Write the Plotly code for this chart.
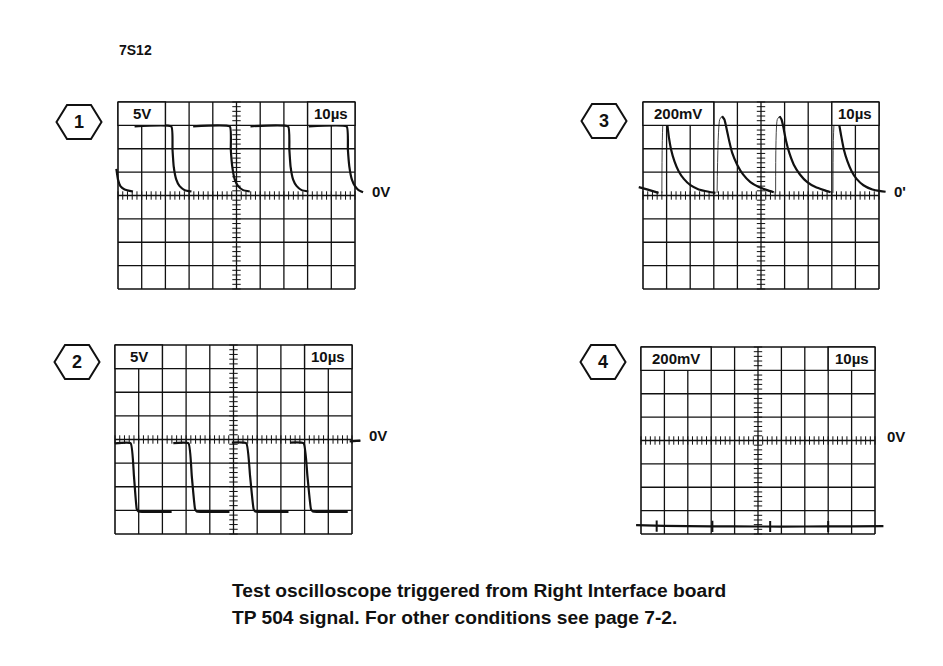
import plotly.graph_objects as go

# page body has an 8px margin, so the figure is drawn from (8, 8)
OFF = 8
W, H = 943 - OFF, 666 - OFF

# ---------------- data (graticule divisions: x 0..10, y -4..4, 0 at centre) -------------
title_text = "7S12"
caption_lines = ["Test oscilloscope triggered from Right Interface board",
                 "TP 504 signal. For other conditions see page 7-2."]

panel_ids = ["1", "2", "3", "4"]
volts_labels = ["5V", "5V", "200mV", "200mV"]
time_labels = ["10\u00b5s", "10\u00b5s", "10\u00b5s", "10\u00b5s"]
zero_labels = ["0V", "0V", "0'", "0V"]

# Panel 1 : 5V/div, 10us/div
p1_x = [-0.07, 0.0, 0.10, 0.28, 0.63, None,
        0.70, 2.25, 2.30, 2.35, 2.46, 2.60, 2.82, 3.10, None,
        3.17, 4.72, 4.76, 4.82, 4.93, 5.07, 5.28, 5.56, None,
        5.59, 7.18, 7.23, 7.28, 7.39, 7.54, 7.75, 8.03, None,
        8.05, 9.65, 9.70, 9.76, 9.87, 10.00, 10.15, 10.34]
p1_y = [1.14, 0.68, 0.40, 0.26, 0.17, None,
        2.96, 2.95, 1.96, 1.25, 0.68, 0.40, 0.23, 0.17, None,
        2.96, 2.95, 1.96, 1.25, 0.68, 0.40, 0.23, 0.17, None,
        2.96, 2.95, 1.96, 1.25, 0.68, 0.40, 0.23, 0.17, None,
        2.96, 2.95, 1.96, 1.25, 0.68, 0.40, 0.23, 0.14]

# Panel 2 : 5V/div, 10us/div
p2_x = [0.00, 0.66, 0.80, 0.92, 0.99, 2.39, None,
        2.46, 3.10, 3.24, 3.38, 3.45, 4.83, None,
        4.93, 5.54, 5.70, 5.85, 5.92, 7.32, None,
        7.39, 7.96, 8.12, 8.27, 8.35, 9.82, None,
        9.90, 10.35]
p2_y = [-0.16, -0.16, -1.55, -2.95, -3.05, -3.06, None,
        -0.15, -0.16, -1.55, -2.95, -3.05, -3.06, None,
        -0.13, -0.16, -1.55, -2.95, -3.05, -3.06, None,
        -0.13, -0.16, -1.55, -2.95, -3.05, -3.06, None,
        -0.08, -0.05]

# Panel 3 : 200mV/div, 10us/div  (decays, drawn bold)
p3_x = [-0.18, 0.17, 0.66, None,
        0.93, 1.02, 1.09, 1.19, 1.33, 1.51, 1.73, 2.01, 2.36, 2.79, 3.07, None,
        3.35, 3.45, 3.52, 3.64, 3.78, 3.99, 4.24, 4.55, 4.91, 5.26, 5.54, None,
        5.79, 5.87, 5.94, 6.05, 6.20, 6.39, 6.65, 6.96, 7.31, 7.67, 7.95, None,
        8.22, 8.30, 8.40, 8.51, 8.66, 8.84, 9.05, 9.34, 9.72, 10.07, 10.28]
p3_y = [0.36, 0.26, 0.11, None,
        3.39, 3.10, 2.54, 1.97, 1.47, 1.04, 0.71, 0.44, 0.26, 0.16, 0.11, None,
        3.39, 3.25, 2.96, 2.39, 1.82, 1.32, 0.90, 0.57, 0.36, 0.23, 0.14, None,
        3.39, 3.25, 2.96, 2.39, 1.82, 1.32, 0.90, 0.57, 0.36, 0.23, 0.14, None,
        3.39, 3.10, 2.54, 1.97, 1.47, 1.04, 0.71, 0.44, 0.26, 0.19, 0.16]
# Panel 3 leading edges (faint, thin)
p3_rise_x = [0.80, 0.86, 0.93, None, 3.14, 3.25, 3.35, None, 5.62, 5.69, 5.79, None, 8.05, 8.12, 8.22]
p3_rise_y = [0.11, 3.25, 3.39, None, 0.11, 3.25, 3.39, None, 0.11, 3.25, 3.39, None, 0.11, 3.25, 3.39]

# Panel 4 : 200mV/div, 10us/div
p4_x = [-0.21, 1.0, 3.0, 5.0, 7.0, 9.0, 10.36]
p4_y = [-3.62, -3.65, -3.67, -3.68, -3.68, -3.67, -3.66]
p4_mark_x = [0.67, 3.05, 5.52, 8.00]
p4_mark_y = [-3.66, -3.67, -3.68, -3.68]

traces_x = [p1_x, p2_x, p3_x, p4_x]
traces_y = [p1_y, p2_y, p3_y, p4_y]

# ---------------- layout geometry (page pixels) ----------------
geo = [dict(L=118, R=355, T=102, B=289, hx=79, hy=122, zx=10.63),   # panel 1
       dict(L=115, R=352, T=345, B=534, hx=77, hy=362, zx=10.63),   # panel 2
       dict(L=643, R=879, T=102, B=289, hx=604, hy=121, zx=10.55),  # panel 3
       dict(L=641, R=875, T=347, B=534, hx=603, hy=362, zx=10.43)]  # panel 4
box_cols = [[(0, 2), (8, 10)], [(0, 2), (8, 10)], [(0, 3), (8, 10)], [(0, 3), (8, 10)]]
XR = [-0.5, 11.6]
YR = [-4.3, 4.3]

INK = "#111111"
FONT = "Liberation Sans"

fig = go.Figure()
shapes = []
annotations = []

def px(x):
    return (x - OFF) / W

def py(y):
    return 1 - (y - OFF) / H

for i in range(4):
    g = geo[i]
    n = "" if i == 0 else str(i + 1)
    xa, ya = "x" + n, "y" + n
    dx = (g["R"] - g["L"]) / 10.0
    dy = (g["B"] - g["T"]) / 8.0
    cy = (g["T"] + g["B"]) / 2.0
    xdom = [px(g["L"] + XR[0] * dx), px(g["L"] + XR[1] * dx)]
    ydom = [py(cy - YR[0] * dy), py(cy - YR[1] * dy)]
    fig.layout["xaxis" + n] = dict(domain=xdom, range=XR, visible=False, anchor=ya, fixedrange=True)
    fig.layout["yaxis" + n] = dict(domain=ydom, range=YR, visible=False, anchor=xa, fixedrange=True)

    # centre graticule minor ticks
    hx = [k * 0.2 for k in range(51)]
    fig.add_trace(go.Scatter(x=hx, y=[0] * len(hx), xaxis=xa, yaxis=ya, mode="markers",
                             marker=dict(symbol="line-ns", size=6, line=dict(width=1, color=INK)),
                             hoverinfo="skip", showlegend=False))
    vy = [-4 + k * 0.2 for k in range(41)]
    fig.add_trace(go.Scatter(x=[5] * len(vy), y=vy, xaxis=xa, yaxis=ya, mode="markers",
                             marker=dict(symbol="line-ew", size=6, line=dict(width=1, color=INK)),
                             hoverinfo="skip", showlegend=False))

    # waveform
    if i == 2:
        fig.add_trace(go.Scatter(x=p3_rise_x, y=p3_rise_y, xaxis=xa, yaxis=ya, mode="lines",
                                 line=dict(color="#444444", width=1.0, shape="spline", smoothing=0.6),
                                 hoverinfo="skip", showlegend=False))
    fig.add_trace(go.Scatter(x=traces_x[i], y=traces_y[i], xaxis=xa, yaxis=ya, mode="lines",
                             line=dict(color=INK, width=2.2, shape="spline", smoothing=0.4),
                             connectgaps=False, hoverinfo="skip", showlegend=False))
    if i == 3:
        fig.add_trace(go.Scatter(x=p4_mark_x, y=p4_mark_y, xaxis=xa, yaxis=ya, mode="markers",
                                 marker=dict(symbol="line-ns", size=8, line=dict(width=2, color=INK)),
                                 hoverinfo="skip", showlegend=False))

    # graticule
    for k in range(11):
        shapes.append(dict(type="line", xref=xa, yref=ya, x0=k, x1=k, y0=-4, y1=4, layer="above",
                           line=dict(color=INK, width=1.6 if k in (0, 10) else 1.3)))
    for k in range(9):
        shapes.append(dict(type="line", xref=xa, yref=ya, x0=0, x1=10, y0=k - 4, y1=k - 4, layer="above",
                           line=dict(color=INK, width=1.6 if k in (0, 8) else 1.3)))
    # label boxes
    for (c0, c1), txt in zip(box_cols[i], [volts_labels[i], time_labels[i]]):
        shapes.append(dict(type="rect", xref=xa, yref=ya, x0=c0, x1=c1, y0=3, y1=4, layer="above",
                           fillcolor="white", line=dict(color=INK, width=1.4)))
        annotations.append(dict(x=(c0 + c1) / 2.0, y=3.5, xref=xa, yref=ya, text=txt, showarrow=False,
                                font=dict(family=FONT, size=15, color=INK, weight="bold"),
                                xanchor="center", yanchor="middle"))
    # 0V label
    if i == 1:
        shapes.append(dict(type="line", xref=xa, yref=ya, x0=10, x1=10.35, y0=-0.05, y1=-0.05,
                           layer="above", line=dict(color=INK, width=2)))
    annotations.append(dict(x=g["zx"], y=0.18, xref=xa, yref=ya, text=zero_labels[i],
                            showarrow=False, xanchor="left", yanchor="middle",
                            font=dict(family=FONT, size=15, color=INK, weight="bold")))

    # hexagon id badge
    cx, cyh = g["hx"], g["hy"]
    a, b, f = 22.5, 17.0, 12.0
    pts = [(cx - a, cyh), (cx - f, cyh - b), (cx + f, cyh - b), (cx + a, cyh), (cx + f, cyh + b), (cx - f, cyh + b)]
    path = "M " + " L ".join("%.5f,%.5f" % (px(p[0]), py(p[1])) for p in pts) + " Z"
    shapes.append(dict(type="path", xref="paper", yref="paper", path=path,
                       line=dict(color=INK, width=2), fillcolor="white"))
    annotations.append(dict(x=px(cx), y=py(cyh), xref="paper", yref="paper", text=panel_ids[i],
                            showarrow=False, xanchor="center", yanchor="middle",
                            font=dict(family=FONT, size=18, color=INK, weight="bold")))

annotations.append(dict(x=px(117), y=py(50), xref="paper", yref="paper", text=title_text,
                        showarrow=False, xanchor="left", yanchor="middle",
                        font=dict(family=FONT, size=14, color=INK, weight="bold")))
for j, line in enumerate(caption_lines):
    annotations.append(dict(x=px(230), y=py(590 + 27 * j), xref="paper", yref="paper", text=line,
                            showarrow=False, xanchor="left", yanchor="middle",
                            font=dict(family=FONT, size=19.2, color=INK, weight="bold")))

fig.update_layout(width=W, height=H, margin=dict(l=0, r=0, t=0, b=0),
                  paper_bgcolor="white", plot_bgcolor="white",
                  shapes=shapes, annotations=annotations, showlegend=False)

fig.write_html("out.html")
